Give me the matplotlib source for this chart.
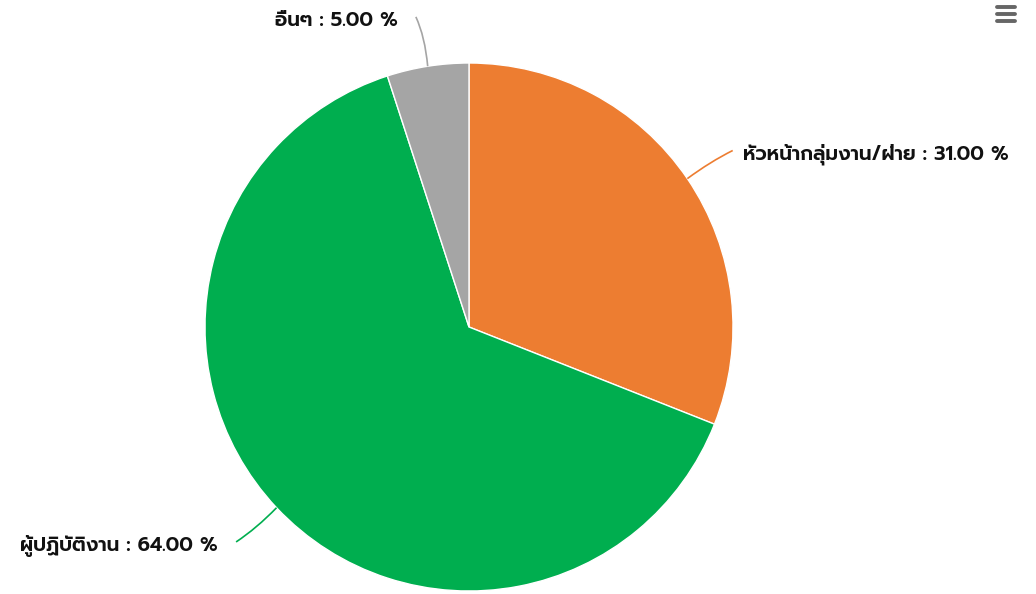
import numpy as np
import matplotlib
matplotlib.use('Agg')
import matplotlib.pyplot as plt
from matplotlib.path import Path
from matplotlib.patches import PathPatch

plt.rcParams['font.family'] = ['Prompt', 'DejaVu Sans']

labels = ['หัวหน้ากลุ่มงาน/ฝ่าย', 'ผู้ปฏิบัติงาน', 'อื่นๆ']
shares = [31.00, 64.00, 5.00]
colors = ['#ED7D31', '#00AE4F', '#A5A5A5']

W, H = 1036, 594
cx, cy, r = 469, H - 327, 264
label_dist = 50

fig = plt.figure(figsize=(W / 100, H / 100), dpi=100)
ax = fig.add_axes([0, 0, 1, 1])

wedges, _ = ax.pie(shares, colors=colors, startangle=90, counterclock=False,
                   center=(cx, cy), radius=r,
                   wedgeprops=dict(edgecolor='white', linewidth=1))
# pie() resets the limits, so set the pixel frame afterwards
ax.set_xlim(0, W)
ax.set_ylim(0, H)
ax.set_aspect('equal')
ax.axis('off')

# data labels with soft connectors, Highcharts style
for w, lab, val, col in zip(wedges, labels, shares, colors):
    ang = np.deg2rad((w.theta1 + w.theta2) / 2)
    d = np.array([np.cos(ang), np.sin(ang)])
    p0 = np.array([cx, cy]) + r * d
    p2 = np.array([cx, cy]) + (r + label_dist) * d
    p1 = np.array([cx, cy]) + (r + label_dist * 0.6) * d
    side = 1 if d[0] >= 0 else -1
    p2[0] += side * 4
    p1[0] = p1[0] - side * 2
    path = Path([p0, p1, p2], [Path.MOVETO, Path.CURVE3, Path.CURVE3])
    ax.add_patch(PathPatch(path, fill=False, edgecolor=col, lw=1.2))
    gap = 10 if side > 0 else 18
    ax.text(p2[0] + side * gap, p2[1] - 4, f'{lab} : {val:.2f} %',
            ha='left' if side > 0 else 'right', va='center',
            fontsize=14.3, fontweight='semibold', color='#111111')

# context menu icon
for yy in (7, 14, 21):
    ax.plot([997, 1015], [H - yy, H - yy], color='#666666', lw=2.8,
            solid_capstyle='round')

fig.savefig('out.png', dpi=100)
